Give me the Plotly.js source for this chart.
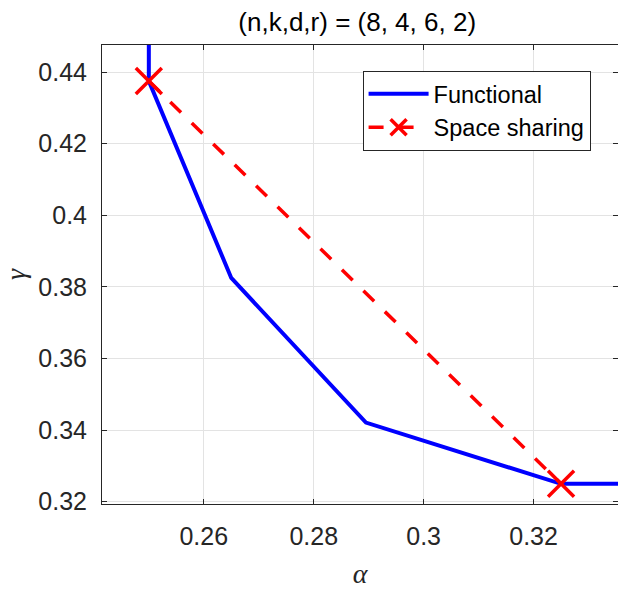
<!DOCTYPE html>
<html>
<head>
<meta charset="utf-8">
<script src="https://cdn.plot.ly/plotly-3.0.1.min.js"></script>
<style>html,body{margin:0;padding:0;overflow:hidden;background:#fff}</style>
</head>
<body>
<div id="chart" style="width:618px;height:589px"></div>
<script>
// Functional trade-off curve
const functionalAlpha = [0.25, 0.25, 0.265, 0.2895, 0.325, 0.336];
const functionalGamma = [0.46, 0.4375, 0.3825, 0.3421, 0.325, 0.325];
// Space sharing
const sharingAlpha = [0.25, 0.325];
const sharingGamma = [0.4375, 0.325];
// Ticks
const xTickVals = [0.26, 0.28, 0.30, 0.32];
const xTickText = ["0.26", "0.28", "0.3", "0.32"];
const yTickVals = [0.32, 0.34, 0.36, 0.38, 0.40, 0.42, 0.44];
const yTickText = ["0.32", "0.34", "0.36", "0.38", "0.4", "0.42", "0.44"];

const axisColor = "#262626";
const fam = "Liberation Sans, Arial, Helvetica, sans-serif";
const tickFont = {family: fam, size: 25, color: axisColor};
const serifIt = "Liberation Serif, DejaVu Serif, serif";

const traces = [
  {
    x: functionalAlpha, y: functionalGamma, mode: "lines", name: "Functional",
    line: {color: "#0000ff", width: 4}
  },
  {
    x: sharingAlpha, y: sharingGamma, mode: "lines+markers", name: "Space sharing",
    line: {color: "#ff0000", width: 3.5, dash: "15px,15px"},
    marker: {symbol: "x-thin", size: 26, color: "#ff0000", line: {color: "#ff0000", width: 3.5}},
    cliponaxis: false
  }
];

const axBase = {
  showline: true, linecolor: axisColor, linewidth: 1, mirror: "ticks",
  ticks: "inside", ticklen: 5, tickcolor: axisColor, tickwidth: 1,
  showgrid: true, gridcolor: "#e3e3e3", gridwidth: 1, zeroline: false,
  tickfont: tickFont, tickmode: "array"
};

const layout = {
  width: 618, height: 589,
  margin: {l: 102, r: 0, t: 45, b: 85},
  paper_bgcolor: "#ffffff", plot_bgcolor: "#ffffff",
  showlegend: true,
  title: {text: "(n,k,d,r) = (8, 4, 6, 2)", font: {family: fam, size: 26, color: "#000"},
          x: 0.578, xanchor: "center", y: 0.962, yanchor: "middle"},
  xaxis: Object.assign({}, axBase, {
    range: [0.24148, 0.33536], tickvals: xTickVals, ticktext: xTickText, ticklabelstandoff: 10,
    title: {text: "<i>α</i>", font: {family: serifIt, size: 28, color: axisColor}, standoff: 14}
  }),
  yaxis: Object.assign({}, axBase, {
    range: [0.31936, 0.44755], tickvals: yTickVals, ticktext: yTickText, ticklabelstandoff: 9,
    title: {text: "<i>γ</i>", font: {family: serifIt, size: 28, color: axisColor}, standoff: 12}
  }),
  legend: {
    x: 0.505, y: 0.9434, xanchor: "left", yanchor: "top",
    bgcolor: "#ffffff", bordercolor: axisColor, borderwidth: 1,
    font: {family: fam, size: 23.5, color: "#000"},
    itemwidth: 60, tracegroupgap: 0
  }
};

Plotly.newPlot("chart", traces, layout, {displayModeBar: false, staticPlot: true});
</script>
</body>
</html>
